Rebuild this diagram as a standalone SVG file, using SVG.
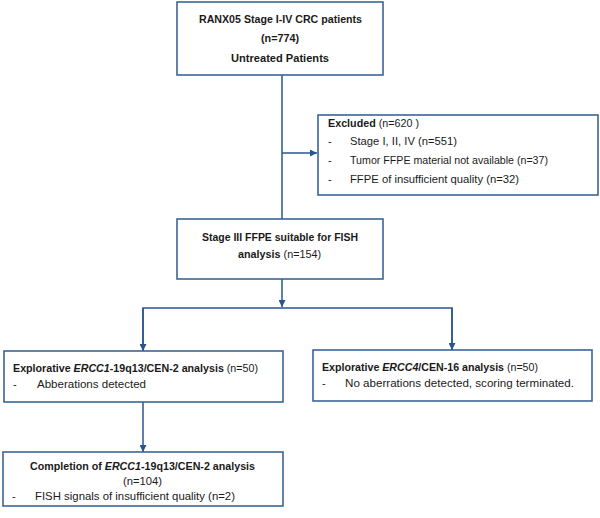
<svg xmlns="http://www.w3.org/2000/svg" width="600" height="518" viewBox="0 0 600 518">
<style>
.box{fill:#fff;stroke:#3b6597;stroke-width:1.6}
text{font-family:"Liberation Sans",Arial,sans-serif;font-size:11px;fill:#1a1a1a}
.b{font-weight:bold}
.c{text-anchor:middle}
.ln{stroke:#2a5490;stroke-width:1.5;fill:none}
</style>
<defs>
<marker id="ah" viewBox="0 0 10 10" refX="10" refY="5" markerWidth="7" markerHeight="7" markerUnits="userSpaceOnUse" orient="auto">
<path d="M0,0 L10,5 L0,10 z" fill="#2a5490"/>
</marker>
</defs>
<rect width="600" height="518" fill="#fff"/>
<g id="connectors">
<line class="ln" x1="282" y1="75" x2="282" y2="219"/>
<line class="ln" x1="282" y1="153" x2="317" y2="153" marker-end="url(#ah)"/>
<line class="ln" x1="282" y1="279" x2="282" y2="307" marker-end="url(#ah)"/>
<polyline class="ln" points="143,351 143,308 452,308 452,350"/>
<line class="ln" x1="143" y1="308" x2="143" y2="351" marker-end="url(#ah)"/>
<line class="ln" x1="452" y1="308" x2="452" y2="350" marker-end="url(#ah)"/>
<line class="ln" x1="143" y1="402" x2="143" y2="452" marker-end="url(#ah)"/>
</g>
<g id="n1">
<rect class="box" x="177" y="2" width="206" height="73"/>
<text class="b" x="199" y="23" textLength="163" lengthAdjust="spacingAndGlyphs">RANX05 Stage I-IV CRC patients</text>
<text class="b" x="261" y="42" textLength="38" lengthAdjust="spacingAndGlyphs">(n=774)</text>
<text class="b" x="231" y="62" textLength="98" lengthAdjust="spacingAndGlyphs">Untreated Patients</text>
</g>
<g id="n2">
<rect class="box" x="318" y="115" width="280" height="80"/>
<text x="328" y="127" textLength="91" lengthAdjust="spacingAndGlyphs"><tspan class="b">Excluded</tspan> (n=620 )</text>
<text x="328" y="145">-</text>
<text x="350" y="145" textLength="107" lengthAdjust="spacingAndGlyphs">Stage I, II, IV (n=551)</text>
<text x="328" y="164">-</text>
<text x="350" y="164" textLength="198" lengthAdjust="spacingAndGlyphs">Tumor FFPE material not available (n=37)</text>
<text x="328" y="183">-</text>
<text x="350" y="183" textLength="169" lengthAdjust="spacingAndGlyphs">FFPE of insufficient quality (n=32)</text>
</g>
<g id="n3">
<rect class="box" x="177" y="219" width="206" height="60"/>
<text class="b" x="202" y="241" textLength="156" lengthAdjust="spacingAndGlyphs">Stage III FFPE suitable for FISH</text>
<text x="238" y="258" textLength="83" lengthAdjust="spacingAndGlyphs"><tspan class="b">analysis</tspan> (n=154)</text>
</g>
<g id="n4">
<rect class="box" x="4" y="351" width="279" height="51"/>
<text x="13" y="372" textLength="245" lengthAdjust="spacingAndGlyphs"><tspan class="b">Explorative </tspan><tspan class="b" font-style="italic">ERCC1</tspan><tspan class="b">-19q13/CEN-2 analysis</tspan> (n=50)</text>
<text x="13" y="388">-</text>
<text x="37" y="388" textLength="109" lengthAdjust="spacingAndGlyphs">Abberations detected</text>
</g>
<g id="n5">
<rect class="box" x="313" y="350" width="279" height="51"/>
<text x="322" y="371" textLength="216" lengthAdjust="spacingAndGlyphs"><tspan class="b">Explorative </tspan><tspan class="b" font-style="italic">ERCC4</tspan><tspan class="b">/CEN-16 analysis</tspan> (n=50)</text>
<text x="322" y="387">-</text>
<text x="345" y="387" textLength="229" lengthAdjust="spacingAndGlyphs">No aberrations detected, scoring terminated.</text>
</g>
<g id="n6">
<rect class="box" x="3" y="452" width="280" height="54"/>
<text x="30" y="470" textLength="225" lengthAdjust="spacingAndGlyphs"><tspan class="b">Completion of </tspan><tspan class="b" font-style="italic">ERCC1</tspan><tspan class="b">-19q13/CEN-2 analysis</tspan></text>
<text x="123" y="485" textLength="39" lengthAdjust="spacingAndGlyphs">(n=104)</text>
<text x="12" y="500">-</text>
<text x="35" y="500" textLength="200" lengthAdjust="spacingAndGlyphs">FISH signals of insufficient quality (n=2)</text>
</g>
</svg>
